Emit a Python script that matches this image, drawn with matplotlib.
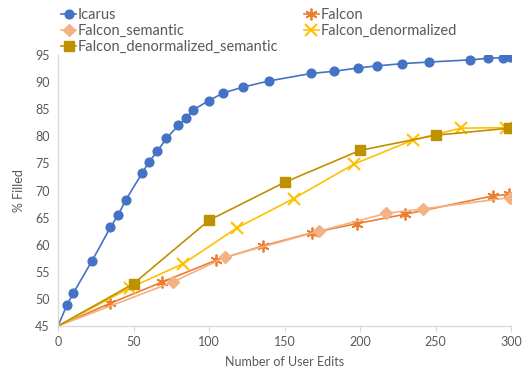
import matplotlib
matplotlib.use("Agg")
import matplotlib.pyplot as plt

plt.rcParams['font.family'] = ['Lato', 'DejaVu Sans']

icarus_x = [0, 5.8, 10.2, 22.5, 34.7, 39.7, 44.8, 55.9, 60.1, 65.6, 71.8, 79.7, 84.8, 89.7,
            100, 109.5, 122.8, 139.5, 167.8, 183, 198.5, 211.5, 227.8, 245.5, 272.8, 285, 294.5, 299.6]
icarus_y = [45, 48.8, 51.1, 57.0, 63.2, 65.4, 68.2, 73.3, 75.2, 77.2, 79.6, 82.0, 83.4, 84.9,
            86.6, 88.0, 89.1, 90.2, 91.6, 92.0, 92.6, 93.0, 93.4, 93.7, 94.1, 94.4, 94.5, 94.7]

falcon_x = [0, 34.7, 68.9, 104.4, 136.0, 168.2, 198, 229.5, 288, 299]
falcon_y = [45, 49.2, 53.1, 57.1, 59.8, 62.2, 63.9, 65.6, 69.0, 69.3]

falcon_sem_x = [0, 76, 110.7, 173, 217.5, 241.7, 299.3]
falcon_sem_y = [45, 53.1, 57.7, 62.5, 65.8, 66.6, 68.7]

falcon_den_x = [0, 48, 83, 118.5, 156, 196.2, 235, 266.9, 297]
falcon_den_y = [45, 52.1, 56.5, 63.1, 68.5, 74.9, 79.3, 81.5, 81.6]

falcon_den_sem_x = [0, 50, 100, 150, 200, 250, 299]
falcon_den_sem_y = [45, 52.8, 64.5, 71.5, 77.4, 80.2, 81.5]

x_ticks = [0, 50, 100, 150, 200, 250, 300]
y_ticks = [45, 50, 55, 60, 65, 70, 75, 80, 85, 90, 95]

fig = plt.figure(figsize=(5.22, 3.72), dpi=100)
ax = fig.add_axes([58/522, 1-326/372, (511-58)/522, (326-55)/372])

lw = 1.2
h_ic, = ax.plot(icarus_x, icarus_y, color='#4472C4', lw=lw, marker='o', ms=6.3,
                markevery=list(range(1, len(icarus_x))), label='Icarus')
h_fa, = ax.plot(falcon_x, falcon_y, color='#ED7D31', lw=lw, marker=(6, 2, 0), ms=8.5, mew=1.3,
                markevery=list(range(1, len(falcon_x))), label='Falcon')
h_fs, = ax.plot(falcon_sem_x, falcon_sem_y, color='#F4B183', lw=lw, marker='D', ms=6,
                markevery=list(range(1, len(falcon_sem_x))), label='Falcon_semantic')
h_fd, = ax.plot(falcon_den_x, falcon_den_y, color='#FFC000', lw=lw, marker='x', ms=8, mew=1.5,
                markevery=list(range(1, len(falcon_den_x))), label='Falcon_denormalized')
h_fds, = ax.plot(falcon_den_sem_x, falcon_den_sem_y, color='#BF9000', lw=lw, marker='s', ms=7.2,
                 markevery=list(range(1, len(falcon_den_sem_x))), label='Falcon_denormalized_semantic')

ax.set_xlim(0, 300)
ax.set_ylim(45, 95)
ax.set_xticks(x_ticks)
ax.set_yticks(y_ticks)
for s in ['top', 'right']:
    ax.spines[s].set_visible(False)
for s in ['left', 'bottom']:
    ax.spines[s].set_color('#D9D9D9')
    ax.spines[s].set_linewidth(1.0)
ax.tick_params(axis='y', length=0, labelsize=9, colors='#595959', pad=6)
ax.tick_params(axis='x', length=4, color='#D9D9D9', labelsize=9, labelcolor='#595959', pad=3)
ax.set_xlabel('Number of User Edits', fontsize=9, color='#595959', labelpad=6)
ax.set_ylabel('% Filled', fontsize=9, color='#595959', labelpad=7)

leg = fig.legend([h_ic, h_fs, h_fds, h_fa, h_fd],
                 ['Icarus', 'Falcon_semantic', 'Falcon_denormalized_semantic', 'Falcon', 'Falcon_denormalized'],
                 ncol=2, loc='upper left', bbox_to_anchor=(53/522, 1.0), frameon=False,
                 fontsize=10.5, handlelength=1.05, handletextpad=0.12, columnspacing=1.7,
                 labelspacing=0.13, borderaxespad=0.35, borderpad=0.2)
for t in leg.get_texts():
    t.set_color('#595959')

fig.savefig('out.png', dpi=100)
